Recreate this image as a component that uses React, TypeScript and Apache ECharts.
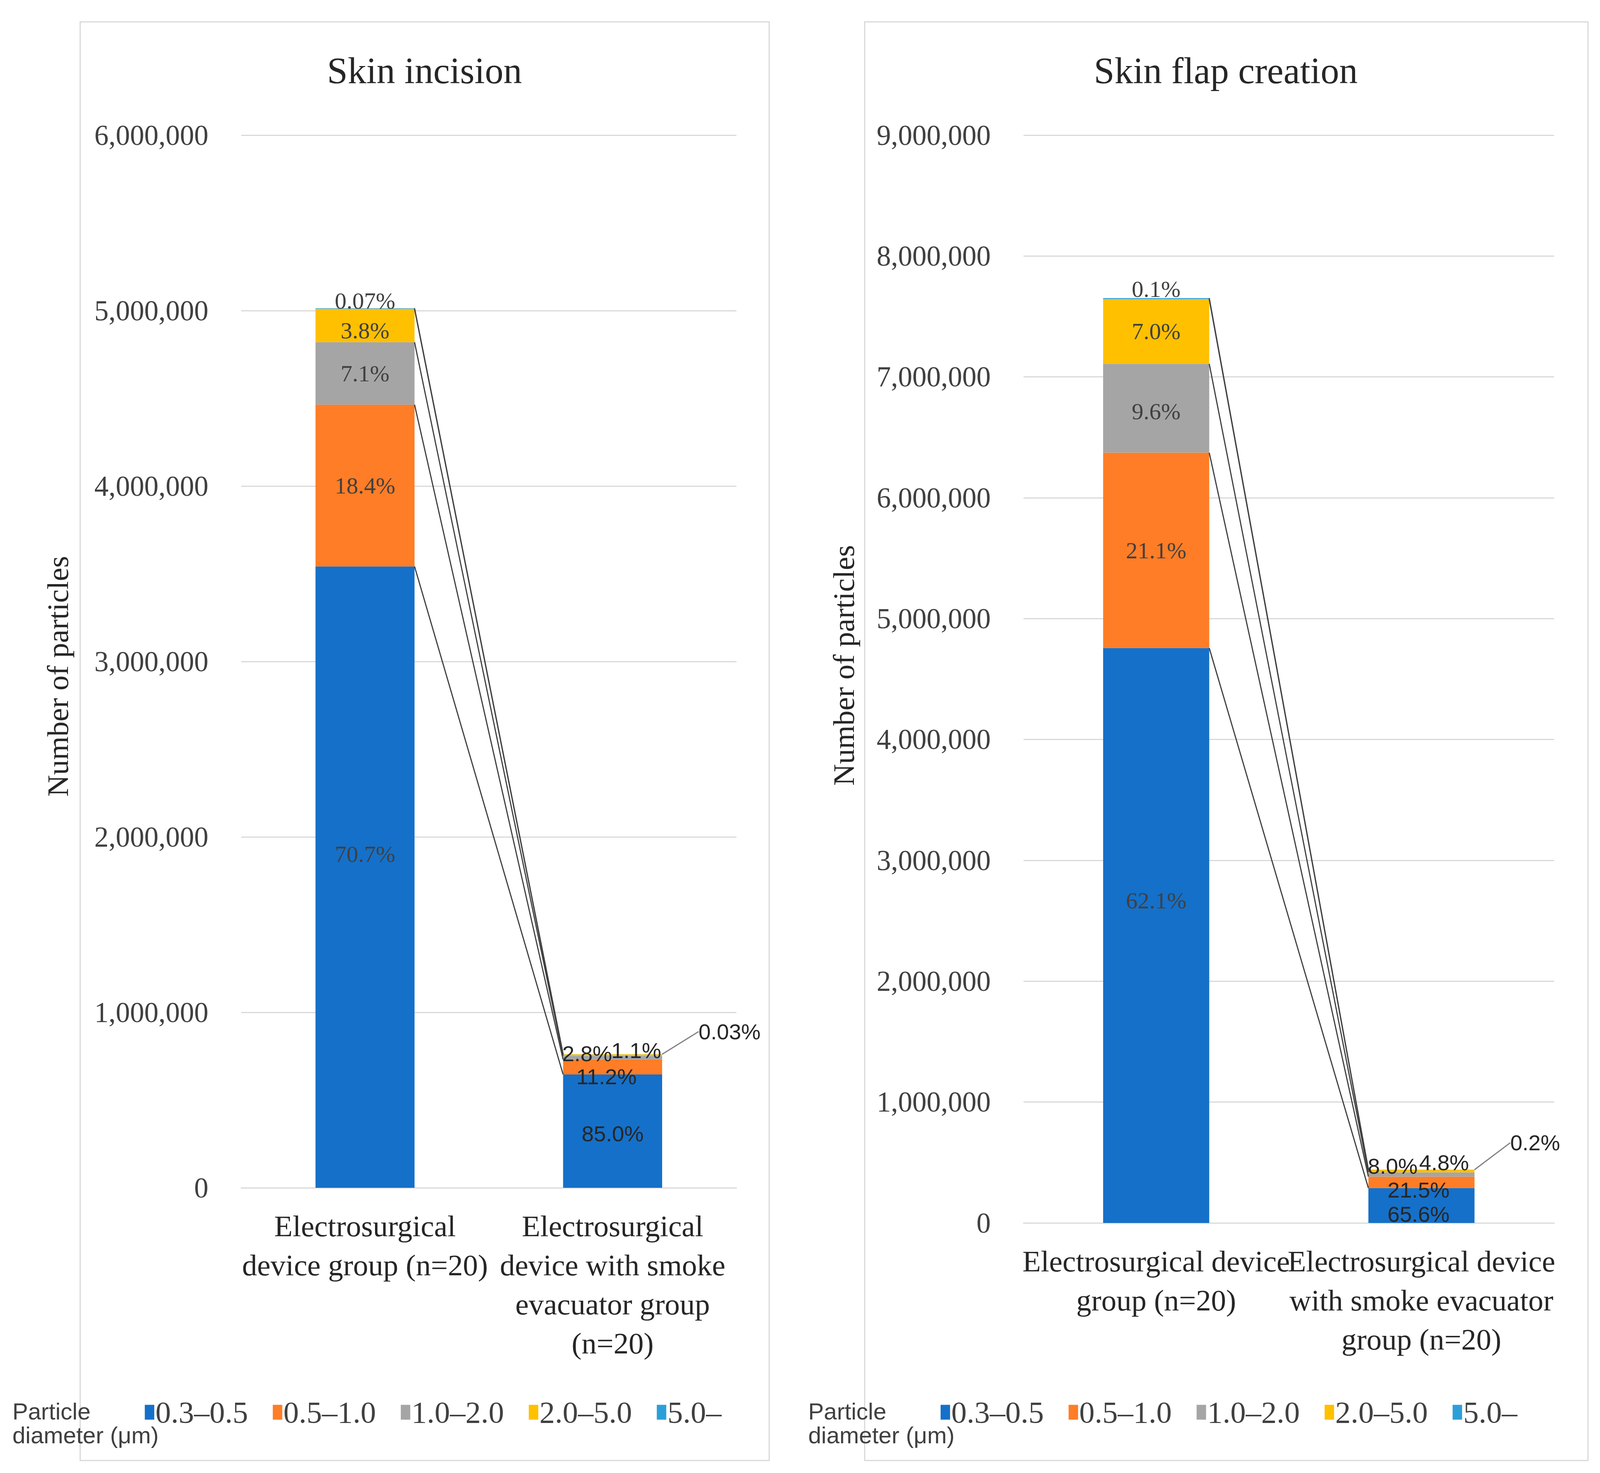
import React, { useEffect, useRef } from "react";
import * as echarts from "echarts";

// ---------- DATA ----------
const sizeBins = ["0.3–0.5", "0.5–1.0", "1.0–2.0", "2.0–5.0", "5.0–"];

const incisionCategories = [
  "Electrosurgical\ndevice group (n=20)",
  "Electrosurgical\ndevice with smoke\nevacuator group\n(n=20)",
];
const flapCategories = [
  "Electrosurgical device\ngroup (n=20)",
  "Electrosurgical device\nwith smoke evacuator\ngroup (n=20)",
];

// Skin incision: [device group, device + evacuator group]
const incision03to05 = [3542000, 646000];
const incision05to10 = [922000, 85100];
const incision10to20 = [356000, 21300];
const incision20to50 = [190000, 8400];
const incision50plus = [3500, 230];

// Skin flap creation
const flap03to05 = [4757000, 288600];
const flap05to10 = [1616000, 94600];
const flap10to20 = [735000, 35200];
const flap20to50 = [536000, 21100];
const flap50plus = [7700, 880];

// Printed percentage labels
const incisionPct03to05 = ["70.7%", "85.0%"];
const incisionPct05to10 = ["18.4%", "11.2%"];
const incisionPct10to20 = ["7.1%", "2.8%"];
const incisionPct20to50 = ["3.8%", "1.1%"];
const incisionPct50plus = ["0.07%", "0.03%"];

const flapPct03to05 = ["62.1%", "65.6%"];
const flapPct05to10 = ["21.1%", "21.5%"];
const flapPct10to20 = ["9.6%", "8.0%"];
const flapPct20to50 = ["7.0%", "4.8%"];
const flapPct50plus = ["0.1%", "0.2%"];

const incisionTicks = { max: 6000000, interval: 1000000 };
const flapTicks = { max: 9000000, interval: 1000000 };

// ---------- STYLE ----------
const REF_W = 4391;
const REF_H = 3770;
const binColors = ["#1570C9", "#FF7D26", "#A5A5A5", "#FFC000", "#2C9FD9"];
const SERIF = "'Liberation Serif', 'DejaVu Serif', serif";
const SANS = "'Liberation Sans', Arial, sans-serif";
const TEXT = "#404040";
const DARK = "#262626";
const GRIDC = "#D9D9D9";

// label offsets [bar1, bar2] per bin, in reference px (last bin uses labelLayout)
const incisionOffsets = [
  [[0, -59], [0, 7]],
  [[0, 0], [-17, 25]],
  [[0, 0], [-70, -10]],
  [[0, 13], [65, -12]],
  [[0, -20], [321, -58]],
];
const flapOffsets = [
  [[0, -89], [-8, 22]],
  [[0, 0], [-8, 19]],
  [[0, 8], [-79, -22]],
  [[0, 0], [62, -22]],
  [[0, -24], [312, -69]],
];

export default function App() {
  const ref = useRef<HTMLDivElement>(null);
  const W = typeof window !== "undefined" ? window.innerWidth : REF_W;
  const H = typeof window !== "undefined" ? window.innerHeight : REF_H;

  useEffect(() => {
    if (!ref.current) return;
    const sx = W / REF_W;
    const sy = H / REF_H;
    const sf = Math.sqrt(sx * sy);
    const X = (v: number) => v * sx;
    const Y = (v: number) => v * sy;
    const F = (v: number) => Math.round(v * sf);

    const chart = echarts.init(ref.current, undefined, { renderer: "svg" });

    const incisionValues = [incision03to05, incision05to10, incision10to20, incision20to50, incision50plus];
    const incisionPcts = [incisionPct03to05, incisionPct05to10, incisionPct10to20, incisionPct20to50, incisionPct50plus];
    const flapValues = [flap03to05, flap05to10, flap10to20, flap20to50, flap50plus];
    const flapPcts = [flapPct03to05, flapPct05to10, flapPct10to20, flapPct20to50, flapPct50plus];

    const buildBars = (
      values: number[][],
      pcts: string[][],
      offsets: number[][][],
      axisIndex: number,
      stack: string
    ) =>
      values.map((vals, b) => ({
        type: "bar",
        name: sizeBins[b],
        stack,
        xAxisIndex: axisIndex,
        yAxisIndex: axisIndex,
        barWidth: "40%",
        itemStyle: { color: binColors[b] },
        label: {
          show: true,
          position: "inside",
          fontFamily: SERIF,
          fontSize: F(62),
          color: TEXT,
          formatter: (p: any) => pcts[b][p.dataIndex],
        },
        labelLayout:
          b === 4
            ? (p: any) => ({ dx: X(offsets[4][p.dataIndex][0]), dy: Y(offsets[4][p.dataIndex][1]) })
            : undefined,
        data: vals.map((v, i) => ({
          value: v,
          label: {
            offset: b === 4 ? [0, 0] : [X(offsets[b][i][0]), Y(offsets[b][i][1])],
            fontFamily: i === 0 ? SERIF : SANS,
            fontSize: i === 0 ? F(62) : F(58),
            color: i === 0 ? TEXT : DARK,
          },
          labelLine:
            b === 4 && i === 1
              ? { show: true, lineStyle: { color: "#7F7F7F", width: 3 } }
              : { show: false },
        })),
      }));

    const buildSeriesLines = (values: number[][], axisIndex: number) => {
      const data: number[][] = [];
      let c1 = 0;
      let c2 = 0;
      values.forEach((vals) => {
        c1 += vals[0];
        c2 += vals[1];
        data.push([0, c1, c2]);
      });
      return {
        type: "custom",
        xAxisIndex: axisIndex,
        yAxisIndex: axisIndex,
        encode: { x: 0, y: 1 },
        silent: true,
        z: 5,
        renderItem: (params: any, api: any) => {
          const p1 = api.coord([0, api.value(1)]);
          const p2 = api.coord([1, api.value(2)]);
          const bw = api.size([1, 0])[0] * 0.4;
          return {
            type: "line",
            shape: { x1: p1[0] + bw / 2, y1: p1[1], x2: p2[0] - bw / 2, y2: p2[1] },
            style: { stroke: "#404040", lineWidth: 3 },
          };
        },
        data,
      };
    };

    const fmt = (v: number) => v.toLocaleString("en-US");

    const makeAxes = (
      cats: string[],
      gridIndex: number,
      ticks: { max: number; interval: number },
      nameGap: number,
      namePad: number[]
    ) => ({
      x: {
        type: "category",
        gridIndex,
        data: cats,
        axisTick: { show: false },
        axisLine: { show: true, lineStyle: { color: GRIDC, width: 3 } },
        axisLabel: {
          interval: 0,
          margin: Y(48),
          fontFamily: SERIF,
          fontSize: F(80),
          lineHeight: Y(100),
          color: DARK,
        },
      },
      y: {
        type: "value",
        gridIndex,
        min: 0,
        max: ticks.max,
        interval: ticks.interval,
        name: "Number of particles",
        nameLocation: "middle",
        nameRotate: 90,
        nameGap: X(nameGap),
        nameTextStyle: { fontFamily: SERIF, fontSize: F(80), color: DARK, padding: namePad },
        axisLine: { show: false },
        axisTick: { show: false },
        splitLine: { lineStyle: { color: GRIDC, width: 3 } },
        axisLabel: {
          margin: X(90),
          formatter: fmt,
          fontFamily: SERIF,
          fontSize: F(76),
          color: TEXT,
        },
      },
    });

    const a0 = makeAxes(incisionCategories, 0, incisionTicks, 462, [0, Y(76), 0, 0]);
    const a1 = makeAxes(flapCategories, 1, flapTicks, 452, [0, 0, 0, Y(70)]);

    const legendBase = {
      orient: "horizontal",
      icon: "rect",
      itemWidth: X(26),
      itemHeight: Y(38),
      itemGap: X(68),
      top: Y(3570),
      data: sizeBins,
      selectedMode: false,
      textStyle: { fontFamily: SERIF, fontSize: F(82), color: TEXT, padding: [0, 0, 0, -2] },
    };

    const titleStyle = { fontFamily: SERIF, fontSize: F(98), fontWeight: "normal", color: DARK };

    chart.setOption({
      animation: false,
      backgroundColor: "#ffffff",
      title: [
        { text: "Skin incision", left: X(1165), top: Y(133), textAlign: "center", padding: 0, textStyle: titleStyle },
        { text: "Skin flap creation", left: X(3364), top: Y(133), textAlign: "center", padding: 0, textStyle: titleStyle },
      ],
      grid: [
        { left: X(662), right: X(2370), top: Y(346), bottom: Y(730) },
        { left: X(2809), right: X(126), top: Y(346), bottom: Y(640) },
      ],
      xAxis: [a0.x, a1.x],
      yAxis: [a0.y, a1.y],
      legend: [
        { ...legendBase, left: X(392) },
        { ...legendBase, left: X(2576) },
      ],
      graphic: [
        {
          type: "rect",
          silent: true,
          z: -10,
          shape: { x: X(220), y: Y(56), width: X(1891), height: Y(3682) },
          style: { fill: "none", stroke: GRIDC, lineWidth: 3 },
        },
        {
          type: "rect",
          silent: true,
          z: -10,
          shape: { x: X(2373), y: Y(56), width: X(1985), height: Y(3682) },
          style: { fill: "none", stroke: GRIDC, lineWidth: 3 },
        },
        {
          type: "text",
          left: X(34),
          top: Y(3582),
          style: { text: "Particle\ndiameter (μm)", font: `${F(62)}px ${SANS}`, lineHeight: Y(61), fill: TEXT },
        },
        {
          type: "text",
          left: X(2218),
          top: Y(3582),
          style: { text: "Particle\ndiameter (μm)", font: `${F(62)}px ${SANS}`, lineHeight: Y(61), fill: TEXT },
        },
      ],
      series: [
        ...buildBars(incisionValues, incisionPcts, incisionOffsets, 0, "incision"),
        buildSeriesLines(incisionValues, 0),
        ...buildBars(flapValues, flapPcts, flapOffsets, 1, "flap"),
        buildSeriesLines(flapValues, 1),
      ],
    });
    return () => chart.dispose();
  }, []);

  return (
    <div
      ref={ref}
      style={{ position: "absolute", left: 0, top: 0, width: W, height: H, background: "#fff" }}
    />
  );
}
